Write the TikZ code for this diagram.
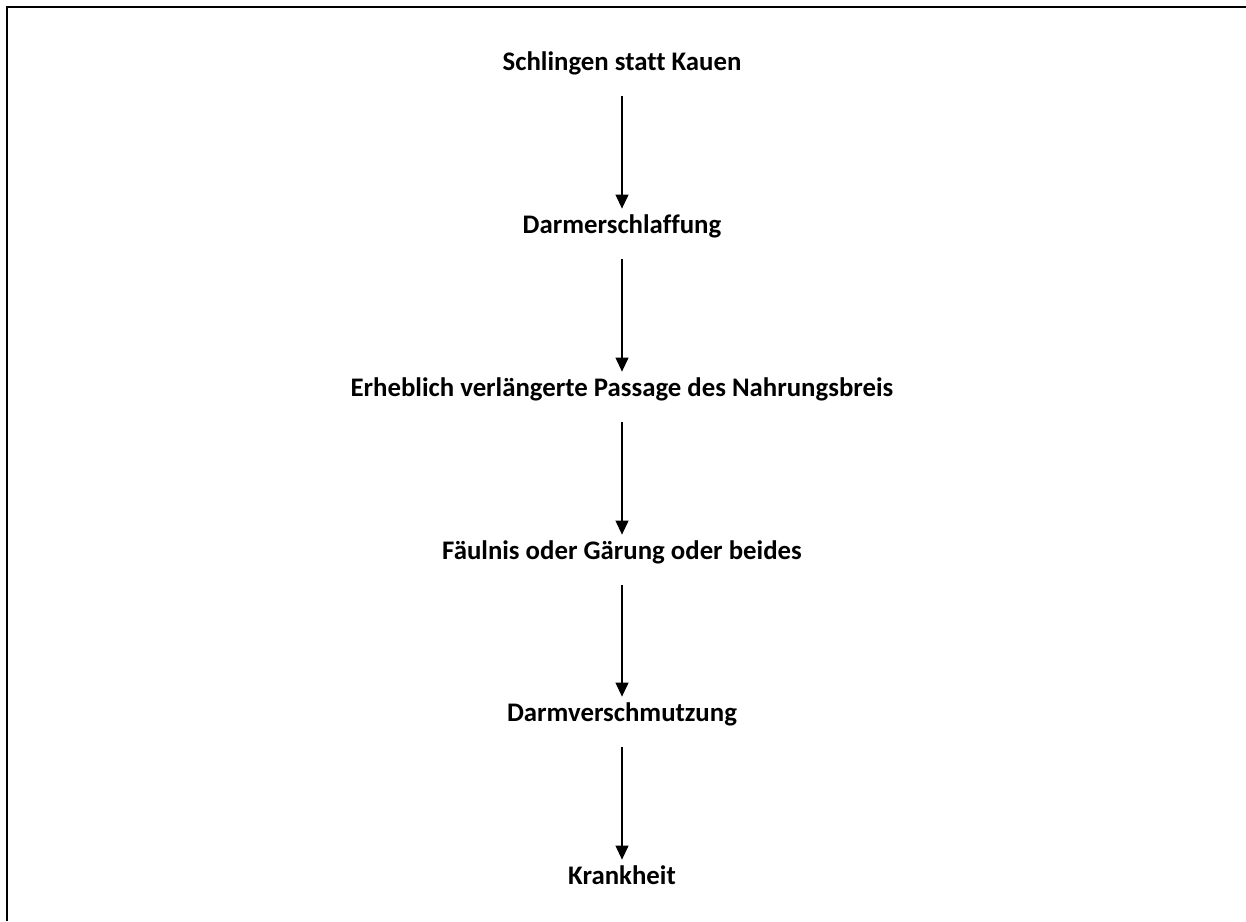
\documentclass[tikz,border=0pt]{standalone}
\usepackage{fontspec}
\setmainfont{Carlito}[Ligatures=NoCommon]
\usetikzlibrary{arrows.meta}

\tikzset{
	stepnode/.style={font=\bfseries\fontsize{13.4}{16}\selectfont,
		inner sep=0pt, text height=9pt, text depth=3pt, anchor=base},
	flowarrow/.style={line width=0.55pt,
		-{Triangle[width=6.5pt,length=7pt]},
		shorten <=10pt, shorten >=3pt}
}

\begin{document}
\begin{tikzpicture}[x=0.5pt,y=-0.5pt]
	
	% page frame
	\useasboundingbox (0,0) rectangle (1246,921);
	\draw[line width=1pt] (7,921) -- (7,7) -- (1246,7);
	
	% steps
	\node[stepnode] (chew) at (622,70) {Schlingen statt Kauen};
	\node[stepnode] (slack) at (622,233) {Darmerschlaffung};
	\node[stepnode] (passage) at (622,396) {Erheblich verlängerte Passage des Nahrungsbreis};
	\node[stepnode] (rot) at (622,559) {Fäulnis oder Gärung oder beides};
	\node[stepnode] (dirt) at (622,721) {Darmverschmutzung};
	\node[stepnode] (ill) at (622,884) {Krankheit};
	
	% arrows
	\draw[flowarrow] (chew) -- (slack);
	\draw[flowarrow] (slack) -- (passage);
	\draw[flowarrow] (passage) -- (rot);
	\draw[flowarrow] (rot) -- (dirt);
	\draw[flowarrow] (dirt) -- (ill);
	
\end{tikzpicture}
\end{document}
